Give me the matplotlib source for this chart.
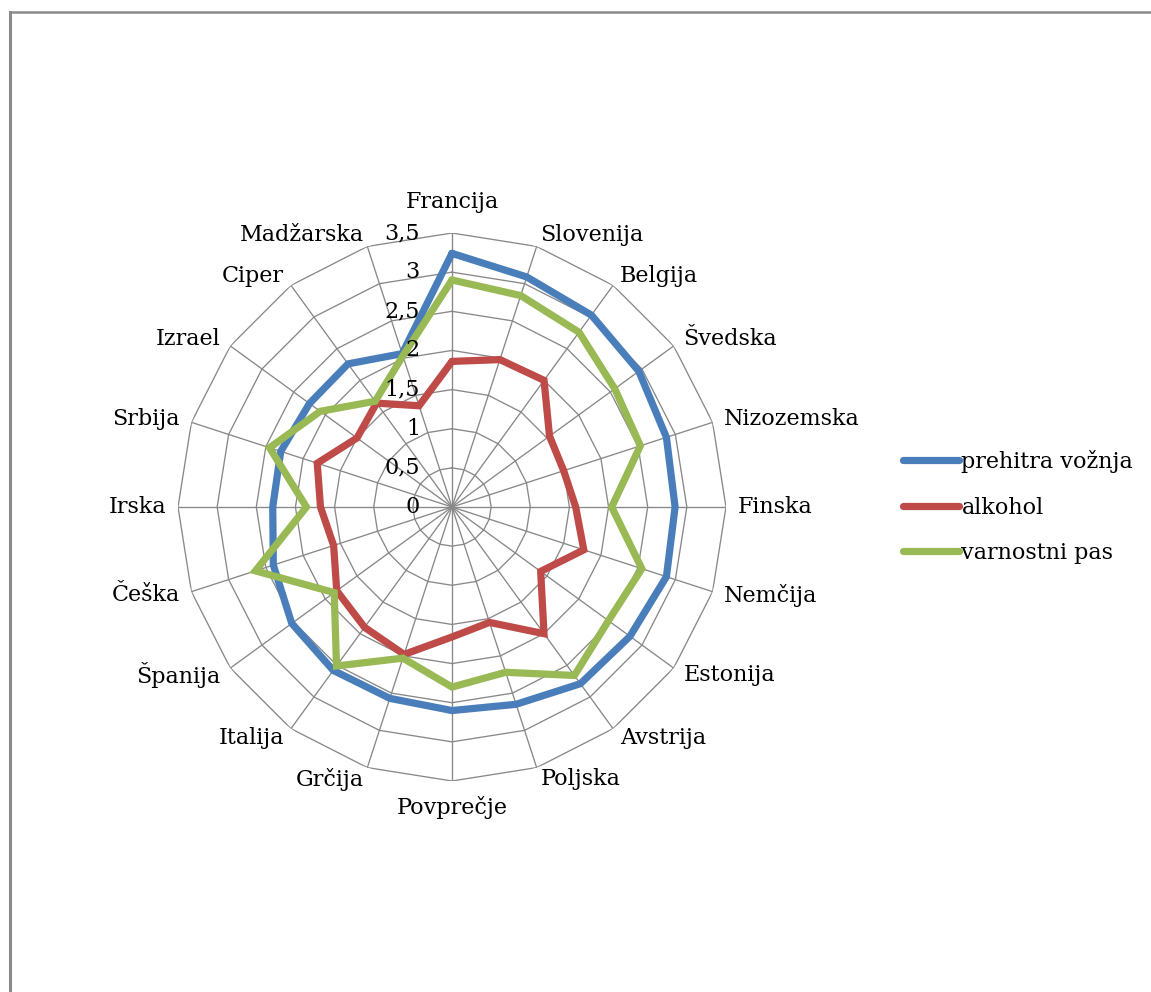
import numpy as np
import matplotlib
matplotlib.use("Agg")
import matplotlib.pyplot as plt
from matplotlib.lines import Line2D
from matplotlib.transforms import offset_copy

# countries around the radar, clockwise from the top
countries = ["Francija", "Slovenija", "Belgija", "Švedska", "Nizozemska", "Finska",
             "Nemčija", "Estonija", "Avstrija", "Poljska", "Povprečje", "Grčija",
             "Italija", "Španija", "Češka", "Irska", "Srbija", "Izrael", "Ciper",
             "Madžarska"]

prehitra_voznja = [3.24, 3.09, 3.03, 2.95, 2.88, 2.85, 2.88, 2.81, 2.79, 2.65,
                   2.60, 2.57, 2.58, 2.53, 2.40, 2.29, 2.30, 2.25, 2.26, 2.06]
alkohol = [1.86, 1.98, 2.00, 1.54, 1.50, 1.58, 1.77, 1.40, 2.00, 1.55,
           1.66, 1.98, 1.90, 1.82, 1.59, 1.68, 1.81, 1.50, 1.64, 1.36]
varnostni_pas = [2.90, 2.84, 2.76, 2.57, 2.53, 2.04, 2.55, 2.47, 2.66, 2.22,
                 2.30, 2.03, 2.51, 1.86, 2.64, 1.86, 2.45, 2.08, 1.67, 2.03]

series_names = ["prehitra vožnja", "alkohol", "varnostni pas"]
series_colors = ["#4A7EBB", "#BE4B48", "#98B954"]

ring_values = [0, 0.5, 1, 1.5, 2, 2.5, 3, 3.5]
ring_labels = ["0", "0,5", "1", "1,5", "2", "2,5", "3", "3,5"]

plt.rcParams["font.family"] = ["DejaVu Serif"]
plt.rcParams["font.size"] = 16

fig = plt.figure(figsize=(11.51, 9.92), dpi=100)
ax = fig.add_axes([0.3927 - 0.2381, 0.4889 - 0.2762, 0.4762, 0.5524], polar=True)
ax.set_theta_zero_location("N")
ax.set_theta_direction(-1)

n = len(countries)
angles = np.arange(n) * 2 * np.pi / n
closed = np.append(angles, angles[0])

# polygon grid like a spreadsheet radar chart
grid_color = "#888888"
for v in ring_values[1:]:
    ax.plot(closed, [v] * (n + 1), color=grid_color, lw=0.95, zorder=1)
for a in angles:
    ax.plot([a, a], [0, ring_values[-1]], color=grid_color, lw=0.95, zorder=1)

for values, color, name in zip([prehitra_voznja, alkohol, varnostni_pas],
                               series_colors, series_names):
    ax.plot(closed, values + values[:1], color=color, lw=5.2, label=name,
            solid_joinstyle="miter", solid_capstyle="round", zorder=3)

ax.set_ylim(0, 3.5)
ax.set_xticks([])
ax.set_yticks([])
ax.grid(False)
ax.spines["polar"].set_visible(False)

# value labels to the left of the top spoke
tick_trans = offset_copy(ax.transData, fig=fig, x=-32, y=0, units="dots")
for v, lab in zip(ring_values, ring_labels):
    ax.text(0, v, lab, transform=tick_trans, ha="right", va="center", zorder=4)

# country names just outside the outer ring
for a, name in zip(angles, countries):
    s, c = np.sin(a), np.cos(a)
    if abs(s) < 0.01:
        pad = 20 if c > 0 else 15
        ha = "center"
        va = "bottom" if c > 0 else "top"
    else:
        pad = 12
        ha = "left" if s > 0 else "right"
        va = "center"
    tr = offset_copy(ax.transData, fig=fig, x=pad * s, y=pad * c, units="dots")
    ax.text(a, 3.5, name, transform=tr, ha=ha, va=va)

leg = fig.legend(loc="center left", bbox_to_anchor=(0.777, 0.4889),
                 frameon=False, handlelength=2.5, handletextpad=0.12,
                 labelspacing=1.05, borderaxespad=0)
for line in leg.get_lines():
    line.set_linewidth(5.2)

# chart area border (top and left edge)
border = "#8A8A8A"
fig.add_artist(Line2D([10 / 1151, 1], [1 - 12 / 992, 1 - 12 / 992],
                      transform=fig.transFigure, color=border, lw=1.8))
fig.add_artist(Line2D([10 / 1151, 10 / 1151], [0, 1 - 12 / 992],
                      transform=fig.transFigure, color=border, lw=2.2))

fig.savefig("out.png", dpi=100, facecolor="white")
